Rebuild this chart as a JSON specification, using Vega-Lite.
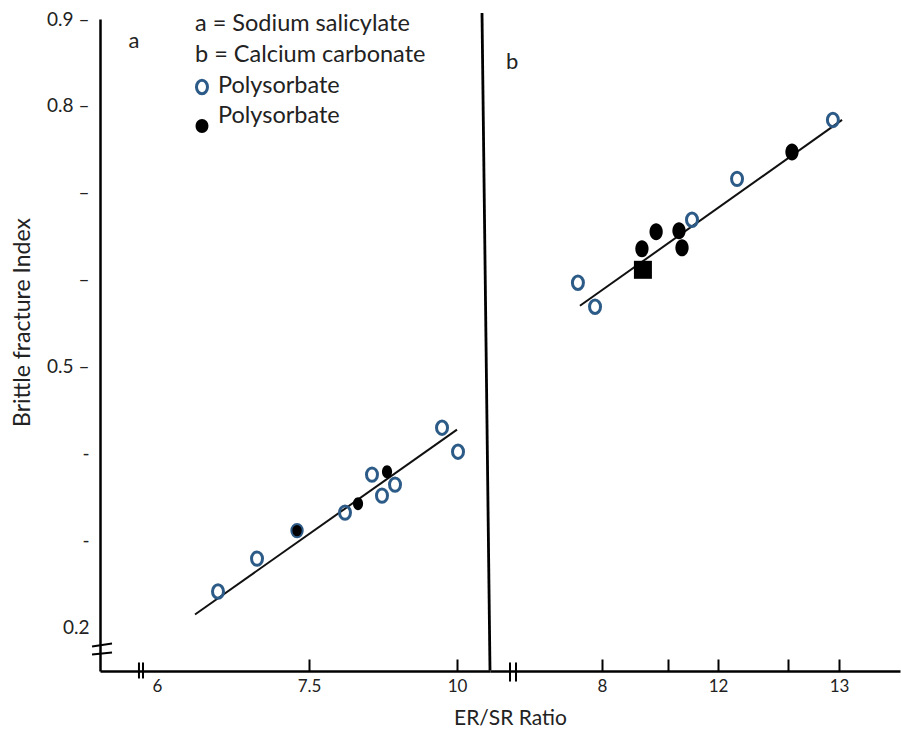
{
  "$schema": "https://vega.github.io/schema/vega-lite/v6.json",
  "autosize": {"type": "none"},
  "padding": {"left": 100, "top": 19, "right": 1, "bottom": 62},
  "width": 800,
  "height": 652,
  "background": "white",
  "config": {
    "view": {"stroke": null},
    "font": "Lato",
    "axis": {"domainColor": "black", "domainWidth": 2.5, "grid": false, "labelFont": "Lato", "labelFontSize": 17, "labelColor": "#222", "titleFont": "Lato", "titleFontSize": 21, "titleFontWeight": "normal", "titleColor": "#222"}
  },
  "resolve": {"scale": {"x": "independent"}, "axis": {"x": "independent"}},
  "encoding": {
    "y": {"field": "y", "type": "quantitative",
      "scale": {"domain": [0.15, 0.9], "nice": false, "zero": false},
      "axis": {"values": [0.2, 0.3, 0.4, 0.5, 0.6, 0.7, 0.8, 0.9], "ticks": false, "labelPadding": 11, "labelFontSize": 19,
        "labelExpr": "datum.value == 0.9 ? '0.9 –' : datum.value == 0.8 ? '0.8 –' : datum.value == 0.5 ? '0.5 –' : datum.value == 0.2 ? '0.2' : (datum.value == 0.7 || datum.value == 0.6) ? '–\u00a0\u00a0' : datum.value == 0.4 ? '-\u00a0\u00a0' : '-\u00a0\u00a0\u00a0\u00a0'",
        "labelFlush": false, "labelOverlap": false,
        "title": "Brittle fracture Index", "titleFontSize": 23, "titleX": -78, "titleY": 303, "titleAngle": -90, "titleAlign": "center", "titleBaseline": "middle"}}
  },
  "layer": [
    {
      "encoding": {
        "x": {"field": "x", "type": "quantitative",
          "scale": {"domain": [5.4375, 6, 7.5, 10, 10.557], "range": [0, 57, 209, 357, 390], "nice": false, "zero": false},
          "axis": {"orient": "bottom", "values": [6, 7.5, 10], "tickSize": -12, "tickWidth": 2, "tickColor": "black",
            "labelExpr": "datum.value == 6 ? '6' : datum.value == 7.5 ? '7.5' : '10'",
            "tickOpacity": {"condition": {"test": "datum.value == 6", "value": 0}, "value": 1},
            "labelPadding": 19, "title": "ER/SR Ratio", "titleX": 410, "titleY": 47, "titleAlign": "center", "titleBaseline": "middle", "labelFlush": false, "labelOverlap": false}}
      },
      "layer": [
        {
          "data": {"values": [{"x": 6.375, "y": 0.215, "x2": 10.0, "y2": 0.4276}]},
          "mark": {"type": "rule", "color": "#111", "strokeWidth": 2},
          "encoding": {"x2": {"field": "x2"}, "y2": {"field": "y2"}}
        },
        {
          "data": {"values": [{"x": 10.422, "y": 0.9069, "x2": 10.557, "y2": 0.1506}]},
          "mark": {"type": "rule", "color": "black", "strokeWidth": 2.8},
          "encoding": {"x2": {"field": "x2"}, "y2": {"field": "y2"}}
        },
        {
          "data": {"values": [
            {"x": 5.822, "y": 0.1598, "x2": 5.822, "y2": 0.1414},
            {"x": 5.862, "y": 0.1598, "x2": 5.862, "y2": 0.1414},
            {"x": 5.359, "y": 0.1782, "x2": 5.556, "y2": 0.1816},
            {"x": 5.359, "y": 0.1690, "x2": 5.556, "y2": 0.1713}
          ]},
          "mark": {"type": "rule", "color": "black", "strokeWidth": 2},
          "encoding": {"x2": {"field": "x2"}, "y2": {"field": "y2"}}
        },
        {
          "data": {"values": [
            {"x": 6.602, "y": 0.2414}, {"x": 6.987, "y": 0.2793}, {"x": 8.108, "y": 0.3322},
            {"x": 8.564, "y": 0.3759}, {"x": 8.733, "y": 0.3517}, {"x": 8.953, "y": 0.3644},
            {"x": 9.747, "y": 0.4299}, {"x": 10.017, "y": 0.4023}, {"x": 6.444, "y": 0.8218}
          ]},
          "mark": {"type": "point", "shape": "M0,-1A0.82,1,0,1,1,0,1A0.82,1,0,1,1,0,-1Z", "filled": false, "stroke": "#2D5B88", "strokeWidth": 3, "size": 180, "opacity": 1}
        },
        {
          "data": {"values": [{"x": 7.382, "y": 0.3115}]},
          "mark": {"type": "point", "shape": "M0,-1A0.85,1,0,1,1,0,1A0.85,1,0,1,1,0,-1Z", "filled": true, "fill": "black", "stroke": "#2D5B88", "strokeWidth": 2, "size": 180, "opacity": 1}
        },
        {
          "data": {"values": [{"x": 8.328, "y": 0.3425}, {"x": 8.818, "y": 0.3793}]},
          "mark": {"type": "point", "shape": "M0,-1A0.78,1,0,1,1,0,1A0.78,1,0,1,1,0,-1Z", "filled": true, "color": "black", "size": 169, "opacity": 1}
        },
        {
          "data": {"values": [{"x": 6.444, "y": 0.777}]},
          "mark": {"type": "point", "shape": "M0,-1A0.92,1,0,1,1,0,1A0.92,1,0,1,1,0,-1Z", "filled": true, "color": "black", "size": 196, "opacity": 1}
        },
        {
          "data": {"values": [
            {"x": 6.375, "y": 0.894, "text": "a = Sodium salicylate"},
            {"x": 6.375, "y": 0.8586, "text": "b = Calcium carbonate"},
            {"x": 6.602, "y": 0.823, "text": "Polysorbate"},
            {"x": 6.602, "y": 0.7885, "text": "Polysorbate"}
          ]},
          "mark": {"type": "text", "align": "left", "baseline": "middle", "font": "Lato", "fontSize": 23.5, "color": "#222"},
          "encoding": {"text": {"field": "text"}}
        },
        {
          "data": {"values": [{"x": 5.773, "y": 0.8747, "text": "a"}]},
          "mark": {"type": "text", "align": "center", "baseline": "middle", "font": "Lato", "fontSize": 22, "color": "#222"},
          "encoding": {"text": {"field": "text"}}
        }
      ]
    },
    {
      "encoding": {
        "x": {"field": "x", "type": "quantitative",
          "scale": {"domain": [4.14, 8, 10, 12, 12.5, 13, 13.5], "range": [390, 502, 568, 618, 688, 739, 800], "nice": false, "zero": false},
          "axis": {"orient": "bottom", "values": [8, 10, 12, 12.5, 13], "tickSize": -12, "tickWidth": 2, "tickColor": "black",
            "labelExpr": "datum.value == 8 ? '8' : datum.value == 12 ? '12' : datum.value == 13 ? '13' : ''",
            "labelPadding": 19, "title": null, "labelFlush": false, "labelOverlap": false}}
      },
      "layer": [
        {
          "data": {"values": [{"x": 7.24, "y": 0.5701, "x2": 13.025, "y2": 0.7839}]},
          "mark": {"type": "rule", "color": "#111", "strokeWidth": 2},
          "encoding": {"x2": {"field": "x2"}, "y2": {"field": "y2"}}
        },
        {
          "data": {"values": [
            {"x": 4.83, "y": 0.1598, "x2": 4.83, "y2": 0.1379},
            {"x": 5.036, "y": 0.1598, "x2": 5.036, "y2": 0.1379}
          ]},
          "mark": {"type": "rule", "color": "black", "strokeWidth": 2},
          "encoding": {"x2": {"field": "x2"}, "y2": {"field": "y2"}}
        },
        {
          "data": {"values": [
            {"x": 7.17, "y": 0.5966}, {"x": 7.76, "y": 0.569}, {"x": 10.96, "y": 0.669},
            {"x": 12.136, "y": 0.7161}, {"x": 12.94, "y": 0.7839}
          ]},
          "mark": {"type": "point", "shape": "M0,-1A0.82,1,0,1,1,0,1A0.82,1,0,1,1,0,-1Z", "filled": false, "stroke": "#2D5B88", "strokeWidth": 3, "size": 180, "opacity": 1}
        },
        {
          "data": {"values": [
            {"x": 9.21, "y": 0.6356}, {"x": 9.64, "y": 0.6552}, {"x": 10.44, "y": 0.6563},
            {"x": 10.56, "y": 0.6368}, {"x": 12.539, "y": 0.7471}
          ]},
          "mark": {"type": "point", "shape": "M0,-1A0.78,1,0,1,1,0,1A0.78,1,0,1,1,0,-1Z", "filled": true, "color": "black", "size": 289, "opacity": 1}
        },
        {
          "data": {"values": [{"x": 9.24, "y": 0.6115}]},
          "mark": {"type": "point", "shape": "square", "filled": true, "color": "black", "size": 324, "opacity": 1}
        },
        {
          "data": {"values": [{"x": 4.9, "y": 0.8506, "text": "b"}]},
          "mark": {"type": "text", "align": "center", "baseline": "middle", "font": "Lato", "fontSize": 22, "color": "#222"},
          "encoding": {"text": {"field": "text"}}
        }
      ]
    }
  ]
}
